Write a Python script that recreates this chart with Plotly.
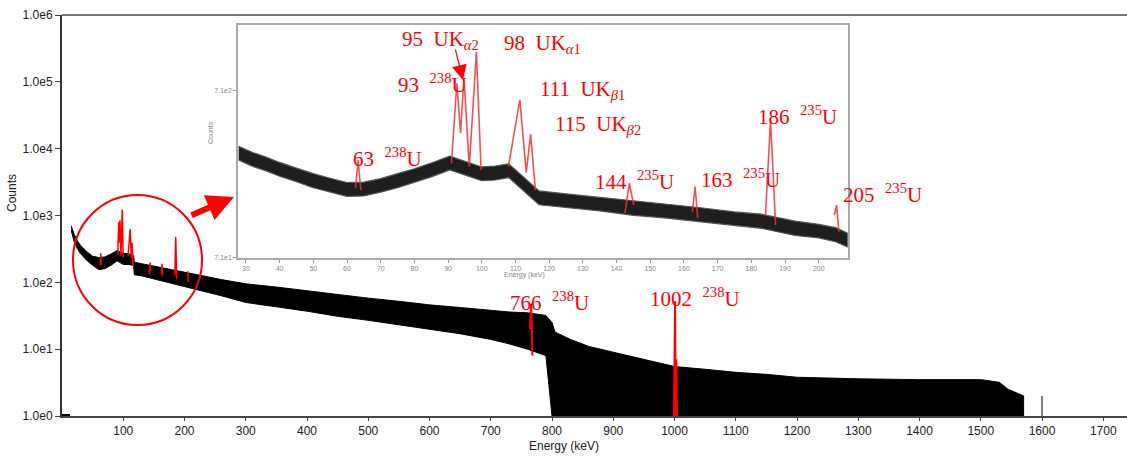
import plotly.graph_objects as go

W, H = 1127, 456
ML, MR, MT, MB = 62, 0, 15, 40

# ---------------- data ----------------
# first channels lying on the axis (counts = 1)
low_energy = [0, 13]
low_counts = [1, 1]

# main spectrum: noise band (lower / upper envelope of counts) vs energy (keV)
main_energy = [15, 20, 25, 30, 40, 50, 60, 70, 80, 90, 100, 108, 117, 118, 130, 150, 170,
               200, 230, 260, 300, 350, 400, 450, 500, 550, 600, 650, 700, 730, 760, 790, 800,
               805, 830, 860, 900, 950, 1000, 1050, 1100, 1150, 1200, 1300, 1400, 1500, 1530,
               1545, 1560, 1570]
main_upper = [700, 520, 420, 360, 290, 245, 235, 240, 265, 300, 270, 270, 250, 200, 190,
              175, 160, 145, 125, 110, 95, 85, 75, 65, 58, 52, 46, 42, 38, 36, 35, 32, 25,
              18, 14, 11, 9, 7, 5.5, 5, 4.5, 4.2, 3.8, 3.6, 3.5, 3.5, 3.2,
              2.5, 2.2, 2]
main_lower = [600, 400, 320, 270, 215, 180, 155, 160, 180, 210, 185, 185, 180, 130, 125,
              112, 100, 85, 74, 63, 50, 43, 37, 31, 27, 23, 20, 17, 14, 12, 10, 8, 1,
              1, 1, 1, 1, 1, 1, 1, 1, 1, 1, 1, 1, 1, 1,
              1, 1, 1]
lone_energy = [1600]
lone_counts = [2]

# inset (28-209 keV) noise band
inset_energy = [27.8, 32, 36, 40, 45, 50, 55, 60, 65, 70, 75, 80, 85, 90.5, 100, 104, 108, 117,
                125, 135, 145, 155, 165, 175, 183, 193, 200, 205, 208.6]
inset_upper = [330, 303, 284, 264, 244, 226, 212, 200, 201, 211, 226, 242, 262, 288, 248, 251,
               259, 178, 171, 163, 154, 147, 141, 133, 129, 117, 112, 107, 99]
inset_lower = [273, 250, 235, 218, 202, 186, 175, 165, 166, 175, 186, 200, 216, 238, 205, 207,
               214, 147, 141, 135, 127, 122, 116, 110, 106, 96, 93, 88, 82]

# isolated gamma peaks: energy, top counts, base counts left/right, half width (keV)
peak_energy = [63.3, 143.8, 163.3, 185.7, 205.3]
peak_top = [273, 198, 189, 475, 146]
peak_base_left = [185, 131, 133, 127, 127]
peak_base_right = [180, 146, 122, 111, 101]
peak_halfwidth = [0.8, 1.3, 0.8, 1.5, 0.7]

# U K x-ray clusters (profile points)
ka_energy = [91.0, 92.6, 93.7, 94.7, 96.3, 98.4, 99.8]
ka_counts = [260, 790, 396, 850, 249, 1222, 238]
kb_energy = [107.9, 111.3, 113.2, 114.5, 115.9]
kb_counts = [249, 627, 230, 390, 180]

# high-energy 238U lines (main plot)
p766_energy = [764, 766, 768]
p766_counts = [20, 48, 8]
p1002_energy = [999, 1000, 1001, 1002, 1003, 1004]
p1002_counts = [1, 13, 52, 1, 7, 1]

# ticks
x_ticks = [100, 200, 300, 400, 500, 600, 700, 800, 900, 1000, 1100, 1200, 1300, 1400, 1500, 1600, 1700]
y_ticks = [1, 10, 100, 1000, 10000, 100000, 1000000]
y_ticktext = ["1.0e0", "1.0e1", "1.0e2", "1.0e3", "1.0e4", "1.0e5", "1.0e6"]
inset_x_ticks = [30, 40, 50, 60, 70, 80, 90, 100, 110, 120, 130, 140, 150, 160, 170, 180, 190, 200]
inset_y_ticks = [71, 710]
inset_y_ticktext = ["7.1e1", "7.1e2"]

# labels
labels = [
    "95&nbsp;&nbsp;UK<sub><i>α</i>2</sub>",
    "98&nbsp;&nbsp;UK<sub><i>α</i>1</sub>",
    "93&nbsp;&nbsp;<sup>238</sup>U",
    "111&nbsp;&nbsp;UK<sub><i>β</i>1</sub>",
    "115&nbsp;&nbsp;UK<sub><i>β</i>2</sub>",
    "63&nbsp;&nbsp;<sup>238</sup>U",
    "144&nbsp;&nbsp;<sup>235</sup>U",
    "163&nbsp;&nbsp;<sup>235</sup>U",
    "186&nbsp;&nbsp;<sup>235</sup>U",
    "205&nbsp;&nbsp;<sup>235</sup>U",
    "766&nbsp;&nbsp;<sup>238</sup>U",
    "1002&nbsp;&nbsp;<sup>238</sup>U",
]
label_px = [(400, 40), (502, 44), (396, 83), (538, 90), (553, 125), (351, 157),
            (593, 180), (699, 179), (756, 115), (841, 194), (508, 301), (648, 297)]

# ---------------- helpers ----------------
PW = W - ML - MR
PH = H - MT - MB


def pxx(x):
    return (x - ML) / PW


def pxy(y):
    return (H - MB - y) / PH


def band(e, lo, hi):
    return e + e[::-1], hi + lo[::-1]


def peak_profiles():
    xs, ys = [], []
    for e, t, bl, br, hw in zip(peak_energy, peak_top, peak_base_left, peak_base_right, peak_halfwidth):
        xs += [e - hw, e, e + hw, None]
        ys += [bl, t, br, None]
    xs += ka_energy + [None] + kb_energy
    ys += ka_counts + [None] + kb_counts
    return xs, ys


fig = go.Figure()

# main spectrum band
bx, by = band(main_energy, main_lower, main_upper)
fig.add_trace(go.Scatter(x=bx, y=by, fill="toself", fillcolor="black", mode="lines",
                         line=dict(color="black", width=1), xaxis="x", yaxis="y", hoverinfo="skip"))
fig.add_trace(go.Scatter(x=low_energy, y=low_counts, mode="lines",
                         line=dict(color="black", width=4), xaxis="x", yaxis="y"))
fig.add_trace(go.Scatter(x=lone_energy * 2, y=[1] + lone_counts, mode="lines",
                         line=dict(color="black", width=1), xaxis="x", yaxis="y"))
rx, ry = peak_profiles()
fig.add_trace(go.Scatter(x=rx, y=ry, mode="lines", line=dict(color="red", width=1.5),
                         xaxis="x", yaxis="y", connectgaps=False))
fig.add_trace(go.Scatter(x=p766_energy + [None] + p1002_energy, y=p766_counts + [None] + p1002_counts,
                         mode="lines", line=dict(color="red", width=2), xaxis="x", yaxis="y"))

# inset
ix, iy = band(inset_energy, inset_lower, inset_upper)
fig.add_trace(go.Scatter(x=ix, y=iy, fill="toself", fillcolor="#1e1e1e", mode="lines",
                         line=dict(color="#555", width=1.2), xaxis="x2", yaxis="y2", hoverinfo="skip"))
fig.add_trace(go.Scatter(x=rx, y=ry, mode="lines", line=dict(color="rgba(240,50,50,0.85)", width=1.6),
                         xaxis="x2", yaxis="y2", connectgaps=False))

axis_font = dict(family="Liberation Sans, Arial, sans-serif", size=12, color="#222")
small_font = dict(family="Liberation Sans, Arial, sans-serif", size=7, color="#888")

fig.update_layout(
    width=W, height=H,
    margin=dict(l=ML, r=MR, t=MT, b=MB, pad=0),
    paper_bgcolor="white", plot_bgcolor="white",
    showlegend=False,
    xaxis=dict(range=[0, PW / 0.6125], tickvals=x_ticks, ticks="outside", ticklen=3,
               tickcolor="#444", showline=True, linecolor="#444", linewidth=2,
               showgrid=False, zeroline=False, tickfont=axis_font),
    yaxis=dict(type="log", range=[0, 6], tickvals=y_ticks, ticktext=y_ticktext, ticks="outside",
               ticklen=5, tickcolor="#444", showline=True, linecolor="#333", linewidth=2,
               showgrid=False, zeroline=False, tickfont=axis_font),
    xaxis2=dict(domain=[pxx(238.3), pxx(847.7)], anchor="y2", range=[27.74, 208.6],
                tickvals=inset_x_ticks, ticks="outside", ticklen=3, tickcolor="#999",
                showline=True, mirror=True, linecolor="#aaa", linewidth=2,
                showgrid=False, zeroline=False, tickfont=small_font),
    yaxis2=dict(domain=[pxy(258), pxy(25)], anchor="x2", type="log", range=[1.847, 3.248],
                tickvals=inset_y_ticks, ticktext=inset_y_ticktext, ticks="outside", ticklen=3,
                tickcolor="#999", showline=True, mirror=True, linecolor="#aaa", linewidth=2,
                showgrid=False, zeroline=False, tickfont=small_font),
)

shapes = [
    dict(type="line", xref="paper", yref="paper", x0=0, x1=1, y0=1, y1=1,
         line=dict(color="#777", width=2)),
    dict(type="circle", xref="paper", yref="paper", x0=pxx(73), x1=pxx(202), y0=pxy(325), y1=pxy(195),
         line=dict(color="red", width=2)),
]
fig.update_layout(shapes=shapes)

ann = []
for txt, (x, y) in zip(labels, label_px):
    ann.append(dict(text=txt, xref="paper", yref="paper", x=pxx(x), y=pxy(y), xanchor="left",
                    yanchor="middle", showarrow=False,
                    font=dict(family="Liberation Serif, Times New Roman, serif", size=21, color="red")))
# axis titles
ann.append(dict(text="Counts", xref="paper", yref="paper", x=pxx(12), y=pxy(193), textangle=-90,
                showarrow=False, font=axis_font, xanchor="center", yanchor="middle"))
ann.append(dict(text="Energy (keV)", xref="paper", yref="paper", x=pxx(564), y=pxy(446),
                showarrow=False, font=axis_font, xanchor="center", yanchor="middle"))
ann.append(dict(text="Counts", xref="paper", yref="paper", x=pxx(210), y=pxy(133), textangle=-90,
                showarrow=False, font=small_font, xanchor="center", yanchor="middle"))
ann.append(dict(text="Energy (keV)", xref="paper", yref="paper", x=pxx(524), y=pxy(275),
                showarrow=False, font=small_font, xanchor="center", yanchor="middle"))
# arrows
ann.append(dict(text="", xref="paper", yref="paper", x=pxx(463), y=pxy(80), ax=455 - 463, ay=48 - 80,
                showarrow=True, arrowhead=2, arrowsize=2.5, arrowwidth=1.2, arrowcolor="red"))
ann.append(dict(text="", xref="paper", yref="paper", x=pxx(234), y=pxy(197), ax=190 - 234, ay=216 - 197,
                showarrow=True, arrowhead=2, arrowsize=0.9, arrowwidth=6, arrowcolor="red"))
fig.update_layout(annotations=ann)

fig.write_html("out.html")
